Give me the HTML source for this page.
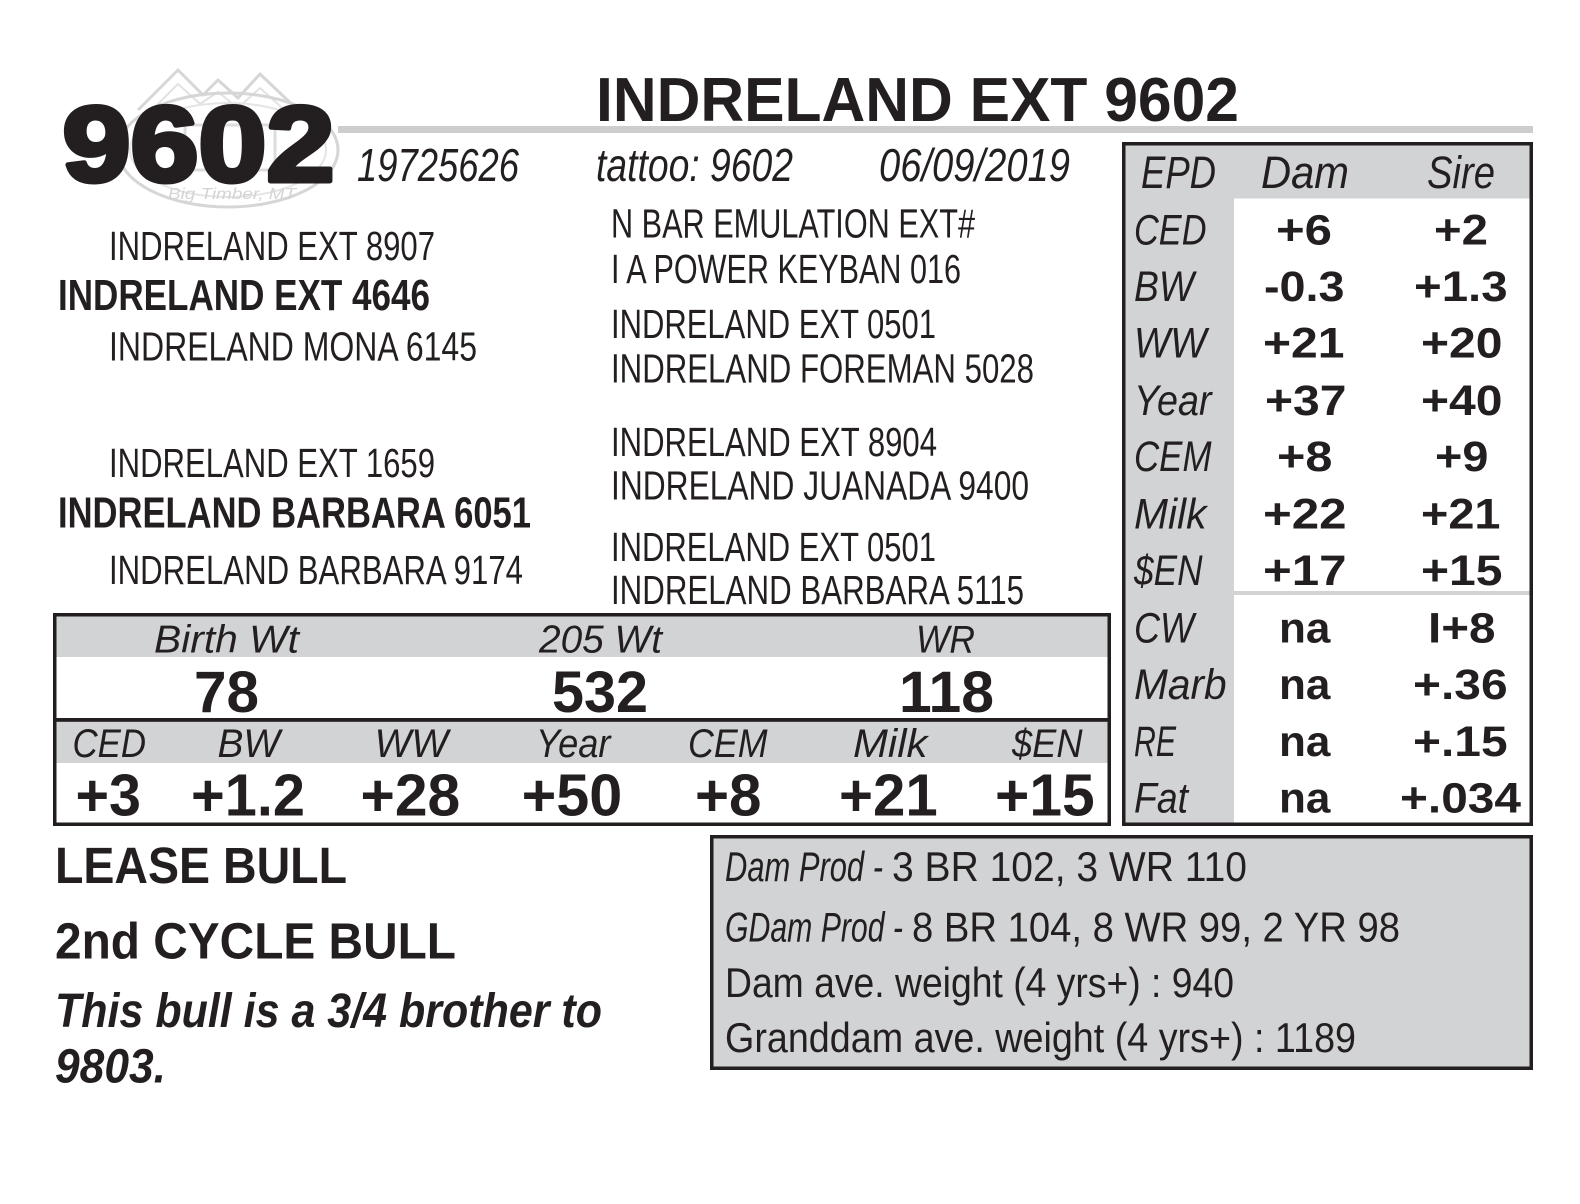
<!DOCTYPE html>
<html>
<head>
<meta charset="utf-8">
<style>
  html,body{margin:0;padding:0;background:#fff;}
  svg{display:block;}
  text{font-family:"Liberation Sans", Arial, sans-serif; fill:#231f20;}
  .b{font-weight:bold;}
  .i{font-style:italic;}
</style>
</head>
<body>
<svg width="1580" height="1204" viewBox="0 0 1580 1204" xmlns="http://www.w3.org/2000/svg">
  <rect x="0" y="0" width="1580" height="1204" fill="#fff"/>

  <!-- faint logo watermark -->
  <g fill="none" stroke="#d6d6d6" stroke-width="3" stroke-linejoin="round">
    <polyline points="138,110 178,70 203,95 218,80 238,98 260,74 300,112"/>
    <polyline points="150,112 178,84 200,104 218,92 238,108 260,88 290,115" stroke="#e2e2e2" stroke-width="2"/>
    <ellipse cx="228" cy="150" rx="110" ry="57"/>
    <ellipse cx="228" cy="150" rx="98" ry="47" stroke="#e4e4e4" stroke-width="2"/>
    <rect x="185" y="125" width="90" height="45" stroke="#dcdcdc"/>
  </g>
  <text x="168" y="199" font-size="16" class="i" style="fill:#d4d4d4" textLength="128" lengthAdjust="spacingAndGlyphs">Big Timber, MT</text>

  <!-- big number -->
  <text x="62.5" y="181" font-size="107" class="b" style="stroke:#231f20;stroke-width:5;stroke-linejoin:round" textLength="272" lengthAdjust="spacingAndGlyphs">9602</text>

  <!-- gray rule -->
  <rect x="338" y="126" width="1195" height="7" fill="#cdcdcd"/>

  <!-- title -->
  <text x="596" y="121" font-size="62" class="b" textLength="643" lengthAdjust="spacingAndGlyphs">INDRELAND EXT 9602</text>

  <text x="357" y="181" font-size="46" class="i" textLength="162" lengthAdjust="spacingAndGlyphs">19725626</text>
  <text x="596" y="181" font-size="46" class="i" textLength="197" lengthAdjust="spacingAndGlyphs">tattoo: 9602</text>
  <text x="879" y="181" font-size="46" class="i" textLength="191" lengthAdjust="spacingAndGlyphs">06/09/2019</text>

  <!-- pedigree left -->
  <text x="109" y="260" font-size="41" textLength="326" lengthAdjust="spacingAndGlyphs">INDRELAND EXT 8907</text>
  <text x="58" y="310" font-size="44" class="b" textLength="372" lengthAdjust="spacingAndGlyphs">INDRELAND EXT 4646</text>
  <text x="109" y="360.5" font-size="41" textLength="368" lengthAdjust="spacingAndGlyphs">INDRELAND MONA 6145</text>
  <text x="109" y="477" font-size="41" textLength="326" lengthAdjust="spacingAndGlyphs">INDRELAND EXT 1659</text>
  <text x="58" y="527.5" font-size="44" class="b" textLength="473" lengthAdjust="spacingAndGlyphs">INDRELAND BARBARA 6051</text>
  <text x="109" y="584" font-size="41" textLength="414" lengthAdjust="spacingAndGlyphs">INDRELAND BARBARA 9174</text>

  <!-- pedigree right -->
  <text x="611" y="237.5" font-size="41" textLength="364" lengthAdjust="spacingAndGlyphs">N BAR EMULATION EXT#</text>
  <text x="611" y="283" font-size="41" textLength="350" lengthAdjust="spacingAndGlyphs">I A POWER KEYBAN 016</text>
  <text x="611" y="338" font-size="41" textLength="325" lengthAdjust="spacingAndGlyphs">INDRELAND EXT 0501</text>
  <text x="611" y="382.5" font-size="41" textLength="423" lengthAdjust="spacingAndGlyphs">INDRELAND FOREMAN 5028</text>
  <text x="611" y="456" font-size="41" textLength="326" lengthAdjust="spacingAndGlyphs">INDRELAND EXT 8904</text>
  <text x="611" y="499.5" font-size="41" textLength="418" lengthAdjust="spacingAndGlyphs">INDRELAND JUANADA 9400</text>
  <text x="611" y="561" font-size="41" textLength="325" lengthAdjust="spacingAndGlyphs">INDRELAND EXT 0501</text>
  <text x="611" y="604" font-size="41" textLength="413" lengthAdjust="spacingAndGlyphs">INDRELAND BARBARA 5115</text>

  <!-- EPD table -->
  <rect x="1123.75" y="143.75" width="407.5" height="680.5" fill="#fff" stroke="#231f20" stroke-width="3.5"/>
  <rect x="1125.5" y="145.5" width="404" height="53" fill="#d1d3d4"/>
  <rect x="1125.5" y="145.5" width="108.5" height="677" fill="#d1d3d4"/>
  <rect x="1234" y="591" width="295.5" height="4" fill="#d1d3d4"/>

  <text x="1141" y="188" font-size="45" class="i" textLength="75" lengthAdjust="spacingAndGlyphs">EPD</text>
  <text x="1261" y="188" font-size="45" class="i" textLength="88" lengthAdjust="spacingAndGlyphs">Dam</text>
  <text x="1427" y="188" font-size="45" class="i" textLength="68" lengthAdjust="spacingAndGlyphs">Sire</text>

  <g font-size="43" class="i">
    <text x="1134" y="244.7" class="i" textLength="72.5" lengthAdjust="spacingAndGlyphs">CED</text>
    <text x="1134" y="301" class="i" textLength="60" lengthAdjust="spacingAndGlyphs">BW</text>
    <text x="1134" y="357.5" class="i" textLength="72.5" lengthAdjust="spacingAndGlyphs">WW</text>
    <text x="1134" y="415" class="i" textLength="77.5" lengthAdjust="spacingAndGlyphs">Year</text>
    <text x="1134" y="471" class="i" textLength="77.5" lengthAdjust="spacingAndGlyphs">CEM</text>
    <text x="1134" y="528.7" class="i" textLength="72.5" lengthAdjust="spacingAndGlyphs">Milk</text>
    <text x="1134" y="585" class="i" textLength="68.5" lengthAdjust="spacingAndGlyphs">$EN</text>
    <text x="1134" y="642.5" class="i" textLength="60" lengthAdjust="spacingAndGlyphs">CW</text>
    <text x="1134" y="699" class="i" textLength="92.6" lengthAdjust="spacingAndGlyphs">Marb</text>
    <text x="1134" y="756" class="i" textLength="42" lengthAdjust="spacingAndGlyphs">RE</text>
    <text x="1134" y="812.6" class="i" textLength="54" lengthAdjust="spacingAndGlyphs">Fat</text>
  </g>

  <g font-size="43" class="b">
    <text x="1276" y="244.7" class="b" textLength="56" lengthAdjust="spacingAndGlyphs">+6</text>
    <text x="1434" y="244.7" class="b" textLength="54" lengthAdjust="spacingAndGlyphs">+2</text>
    <text x="1264" y="301" class="b" textLength="80.5" lengthAdjust="spacingAndGlyphs">-0.3</text>
    <text x="1414" y="301" class="b" textLength="93.6" lengthAdjust="spacingAndGlyphs">+1.3</text>
    <text x="1263" y="357.5" class="b" textLength="81.5" lengthAdjust="spacingAndGlyphs">+21</text>
    <text x="1421" y="357.5" class="b" textLength="81.5" lengthAdjust="spacingAndGlyphs">+20</text>
    <text x="1265" y="415" class="b" textLength="81.5" lengthAdjust="spacingAndGlyphs">+37</text>
    <text x="1421" y="415" class="b" textLength="81.5" lengthAdjust="spacingAndGlyphs">+40</text>
    <text x="1277" y="471" class="b" textLength="55.4" lengthAdjust="spacingAndGlyphs">+8</text>
    <text x="1435" y="471" class="b" textLength="53.4" lengthAdjust="spacingAndGlyphs">+9</text>
    <text x="1263" y="528.7" class="b" textLength="83.6" lengthAdjust="spacingAndGlyphs">+22</text>
    <text x="1421" y="528.7" class="b" textLength="79.5" lengthAdjust="spacingAndGlyphs">+21</text>
    <text x="1263" y="585" class="b" textLength="83.6" lengthAdjust="spacingAndGlyphs">+17</text>
    <text x="1421" y="585" class="b" textLength="81.5" lengthAdjust="spacingAndGlyphs">+15</text>
    <text x="1279" y="642.5" class="b" textLength="51.4" lengthAdjust="spacingAndGlyphs">na</text>
    <text x="1428" y="642.5" class="b" textLength="67.5" lengthAdjust="spacingAndGlyphs">I+8</text>
    <text x="1279" y="699" class="b" textLength="51.4" lengthAdjust="spacingAndGlyphs">na</text>
    <text x="1413" y="699" class="b" textLength="94.6" lengthAdjust="spacingAndGlyphs">+.36</text>
    <text x="1279" y="756" class="b" textLength="51.4" lengthAdjust="spacingAndGlyphs">na</text>
    <text x="1413" y="756" class="b" textLength="94.6" lengthAdjust="spacingAndGlyphs">+.15</text>
    <text x="1279" y="812.6" class="b" textLength="51.4" lengthAdjust="spacingAndGlyphs">na</text>
    <text x="1400" y="812.6" class="b" textLength="121" lengthAdjust="spacingAndGlyphs">+.034</text>
  </g>

  <!-- 205 box -->
  <rect x="54.75" y="614.75" width="1054.5" height="209.5" fill="#fff" stroke="#231f20" stroke-width="3.5"/>
  <rect x="56.5" y="616.5" width="1051" height="40.5" fill="#d1d3d4"/>
  <rect x="56.5" y="721.5" width="1051" height="41.5" fill="#d1d3d4"/>
  <rect x="56.5" y="718" width="1051" height="3.8" fill="#231f20"/>

  <text x="154" y="652.5" font-size="39" class="i" textLength="145" lengthAdjust="spacingAndGlyphs">Birth Wt</text>
  <text x="539" y="652.5" font-size="39" class="i" textLength="123" lengthAdjust="spacingAndGlyphs">205 Wt</text>
  <text x="916" y="652.5" font-size="39" class="i" textLength="59" lengthAdjust="spacingAndGlyphs">WR</text>

  <text x="194" y="712" font-size="58" class="b" textLength="65" lengthAdjust="spacingAndGlyphs">78</text>
  <text x="552" y="712" font-size="58" class="b" textLength="96" lengthAdjust="spacingAndGlyphs">532</text>
  <text x="899" y="712" font-size="58" class="b" textLength="95" lengthAdjust="spacingAndGlyphs">118</text>

  <g font-size="40">
    <text x="72.5" y="757" class="i" textLength="73.5" lengthAdjust="spacingAndGlyphs">CED</text>
    <text x="217.5" y="757" class="i" textLength="62.5" lengthAdjust="spacingAndGlyphs">BW</text>
    <text x="374.6" y="757" class="i" textLength="73.5" lengthAdjust="spacingAndGlyphs">WW</text>
    <text x="536" y="757" class="i" textLength="74.5" lengthAdjust="spacingAndGlyphs">Year</text>
    <text x="688" y="757" class="i" textLength="79.5" lengthAdjust="spacingAndGlyphs">CEM</text>
    <text x="853" y="757" class="i" textLength="74.5" lengthAdjust="spacingAndGlyphs">Milk</text>
    <text x="1012" y="757" class="i" textLength="70.5" lengthAdjust="spacingAndGlyphs">$EN</text>
  </g>

  <g font-size="59">
    <text x="75.5" y="815.7" class="b" textLength="65.5" lengthAdjust="spacingAndGlyphs">+3</text>
    <text x="191" y="815.7" class="b" textLength="114" lengthAdjust="spacingAndGlyphs">+1.2</text>
    <text x="360.5" y="815.7" class="b" textLength="99.7" lengthAdjust="spacingAndGlyphs">+28</text>
    <text x="521.6" y="815.7" class="b" textLength="100.7" lengthAdjust="spacingAndGlyphs">+50</text>
    <text x="695" y="815.7" class="b" textLength="66.5" lengthAdjust="spacingAndGlyphs">+8</text>
    <text x="839" y="815.7" class="b" textLength="98.7" lengthAdjust="spacingAndGlyphs">+21</text>
    <text x="995" y="815.7" class="b" textLength="99.7" lengthAdjust="spacingAndGlyphs">+15</text>
  </g>

  <!-- bottom left -->
  <text x="55" y="883" font-size="51" class="b" textLength="292" lengthAdjust="spacingAndGlyphs">LEASE BULL</text>
  <text x="55" y="958.7" font-size="51" class="b" textLength="401" lengthAdjust="spacingAndGlyphs">2nd CYCLE BULL</text>
  <text x="55" y="1027" font-size="48" class="b i" textLength="547" lengthAdjust="spacingAndGlyphs">This bull is a 3/4 brother to</text>
  <text x="55" y="1082.5" font-size="48" class="b i" textLength="111" lengthAdjust="spacingAndGlyphs">9803.</text>

  <!-- production box -->
  <rect x="711.75" y="836.75" width="819.5" height="231.5" fill="#d1d3d4" stroke="#231f20" stroke-width="3.5"/>
  <text x="725" y="881" font-size="42" class="i" textLength="158" lengthAdjust="spacingAndGlyphs">Dam Prod -</text>
  <text x="892" y="881" font-size="42" textLength="355" lengthAdjust="spacingAndGlyphs">3 BR 102, 3 WR 110</text>
  <text x="725" y="941.5" font-size="42" class="i" textLength="178" lengthAdjust="spacingAndGlyphs">GDam Prod -</text>
  <text x="912" y="941.5" font-size="42" textLength="488" lengthAdjust="spacingAndGlyphs">8 BR 104, 8 WR 99, 2 YR 98</text>
  <text x="725" y="997" font-size="42" textLength="509" lengthAdjust="spacingAndGlyphs">Dam ave. weight (4 yrs+) : 940</text>
  <text x="725" y="1052" font-size="42" textLength="631" lengthAdjust="spacingAndGlyphs">Granddam ave. weight (4 yrs+) : 1189</text>
</svg>
</body>
</html>
